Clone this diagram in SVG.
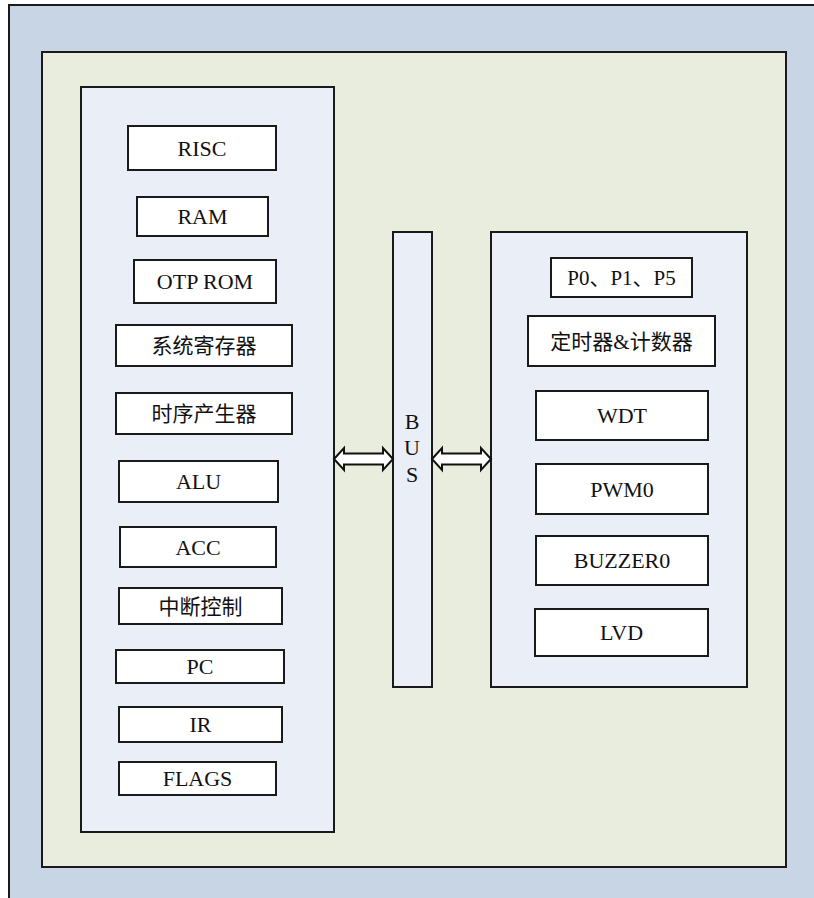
<svg xmlns="http://www.w3.org/2000/svg" width="814" height="898" viewBox="0 0 814 898">
<style>
  .box{fill:#ffffff;stroke:#1a1a1a;stroke-width:2}
  .panel{fill:#EAEEF7;stroke:#1a1a1a;stroke-width:2}
  .t{font-family:"Liberation Serif","Times New Roman","Noto Sans CJK SC",serif;font-size:22px;fill:#111;text-anchor:middle}
  .c{font-family:"Liberation Serif","Noto Sans CJK SC",serif;font-size:21px;fill:#111;text-anchor:middle}
  .arr{fill:#ffffff;stroke:#111;stroke-width:2;stroke-linejoin:miter}
</style>
<rect width="814" height="898" fill="#ffffff"/>
<g id="outer">
  <rect x="9" y="5" width="820" height="910" fill="#C8D5E5" stroke="#1a1a1a" stroke-width="2"/>
</g>
<g id="chip">
  <rect x="42" y="52" width="744" height="815" fill="#E9EDDD" stroke="#1a1a1a" stroke-width="2"/>
</g>
<g id="core">
  <rect class="panel" x="81" y="87" width="253" height="745"/>
</g>
<g id="risc"><rect class="box" x="128" y="126" width="148" height="44"/><text class="t" x="202" y="155.5">RISC</text></g>
<g id="ram"><rect class="box" x="137" y="197" width="131" height="39"/><text class="t" x="202.5" y="224">RAM</text></g>
<g id="otprom"><rect class="box" x="134" y="260" width="142" height="43"/><text class="t" x="205" y="289">OTP ROM</text></g>
<g id="sysreg"><rect class="box" x="116" y="325" width="176" height="41"/><text class="c" x="204" y="353">系统寄存器</text></g>
<g id="timing"><rect class="box" x="116" y="393" width="176" height="41"/><text class="c" x="204" y="421">时序产生器</text></g>
<g id="alu"><rect class="box" x="119" y="461" width="159" height="41"/><text class="t" x="198.5" y="489">ALU</text></g>
<g id="acc"><rect class="box" x="120" y="527" width="156" height="40"/><text class="t" x="198" y="554.5">ACC</text></g>
<g id="int"><rect class="box" x="119" y="588" width="163" height="36"/><text class="c" x="200.5" y="613.5">中断控制</text></g>
<g id="pc"><rect class="box" x="116" y="650" width="168" height="33"/><text class="t" x="200" y="674">PC</text></g>
<g id="ir"><rect class="box" x="119" y="707" width="163" height="35"/><text class="t" x="200.5" y="732">IR</text></g>
<g id="flags"><rect class="box" x="119" y="762" width="157" height="33"/><text class="t" x="197.5" y="786">FLAGS</text></g>
<g id="bus">
  <rect class="panel" x="393" y="232" width="39" height="455"/>
  <text class="t" x="412" y="429">B</text>
  <text class="t" x="412" y="455">U</text>
  <text class="t" x="412" y="481.5">S</text>
</g>
<g id="periph">
  <rect class="panel" x="491" y="232" width="256" height="455"/>
</g>
<g id="ports"><rect class="box" x="551" y="258" width="141" height="39"/><text class="c" x="621.5" y="285">P0、P1、P5</text></g>
<g id="timer"><rect class="box" x="528" y="316" width="187" height="50"/><text class="c" x="621.5" y="349">定时器&amp;计数器</text></g>
<g id="wdt"><rect class="box" x="536" y="391" width="172" height="49"/><text class="t" x="622" y="423">WDT</text></g>
<g id="pwm0"><rect class="box" x="536" y="464" width="172" height="50"/><text class="t" x="622" y="496.5">PWM0</text></g>
<g id="buzzer0"><rect class="box" x="536" y="536" width="172" height="49"/><text class="t" x="622" y="568">BUZZER0</text></g>
<g id="lvd"><rect class="box" x="535" y="609" width="173" height="47"/><text class="t" x="621.5" y="640">LVD</text></g>
<g id="connectors">
  <polygon class="arr" points="334,459 344,448 344,453.5 383,453.5 383,448 393,459 383,470 383,464.5 344,464.5 344,470"/>
  <polygon class="arr" points="432,459 442,448 442,453.5 481,453.5 481,448 491,459 481,470 481,464.5 442,464.5 442,470"/>
</g>
</svg>
